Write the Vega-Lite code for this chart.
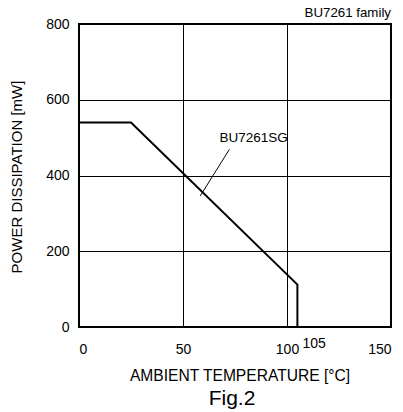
{
  "$schema": "https://vega.github.io/schema/vega-lite/v6.json",
  "autosize": {"type": "none"},
  "width": 312,
  "height": 303,
  "padding": {"left": 79, "top": 24, "right": 12, "bottom": 85},
  "config": {
    "font": "Liberation Sans",
    "view": {"stroke": "#000", "strokeWidth": 2},
    "axis": {"labelFont": "Liberation Sans", "titleFont": "Liberation Sans", "labelColor": "#000", "titleColor": "#000", "titleFontWeight": "normal", "gridColor": "#000", "gridOpacity": 1, "gridWidth": 1, "domain": false, "ticks": false, "labelFontSize": 14, "titleFontSize": 15}
  },
  "title": {"text": "Fig.2", "orient": "bottom", "fontSize": 21, "fontWeight": "normal", "color": "#000", "font": "Liberation Sans", "offset": 0, "dx": -3, "dy": 4},
  "datasets": {
    "curve": [
      {"t": 0, "p": 540},
      {"t": 25, "p": 540},
      {"t": 105, "p": 112},
      {"t": 105, "p": 0}
    ],
    "leader": [
      {"t": 72.3, "p": 469},
      {"t": 58.3, "p": 346}
    ],
    "labels": [
      {"t": 84, "p": 499, "label": "BU7261SG", "kind": "series"},
      {"t": 150, "p": 800, "label": "BU7261 family", "kind": "family"},
      {"t": 105, "p": 0, "label": "105", "kind": "tick"}
    ]
  },
  "layer": [
    {
      "data": {"name": "curve"},
      "mark": {"type": "line", "color": "#000", "strokeWidth": 2},
      "encoding": {
        "x": {"field": "t", "type": "quantitative", "scale": {"domain": [0, 150], "nice": false},
          "axis": {"values": [0, 50, 100, 150], "grid": true, "title": "AMBIENT TEMPERATURE [°C]", "labelPadding": 15, "titleFontSize": 15.6, "titleBaseline": "alphabetic", "titleX": 160.5, "titleY": 53}},
        "y": {"field": "p", "type": "quantitative", "scale": {"domain": [0, 800], "nice": false},
          "axis": {"values": [0, 200, 400, 600, 800], "grid": true, "title": "POWER DISSIPATION [mW]", "labelPadding": 10, "titleBaseline": "middle", "titleX": -62.5, "titleY": 152.5}}
      }
    },
    {
      "data": {"name": "leader"},
      "mark": {"type": "line", "color": "#000", "strokeWidth": 1},
      "encoding": {
        "x": {"field": "t", "type": "quantitative"},
        "y": {"field": "p", "type": "quantitative"}
      }
    },
    {
      "data": {"name": "labels"},
      "transform": [{"filter": "datum.kind == 'series'"}],
      "mark": {"type": "text", "fontSize": 13.5, "color": "#000", "align": "center", "baseline": "middle"},
      "encoding": {
        "x": {"field": "t", "type": "quantitative"},
        "y": {"field": "p", "type": "quantitative"},
        "text": {"field": "label"}
      }
    },
    {
      "data": {"name": "labels"},
      "transform": [{"filter": "datum.kind == 'family'"}],
      "mark": {"type": "text", "fontSize": 13.3, "color": "#000", "align": "right", "baseline": "alphabetic", "dy": -7},
      "encoding": {
        "x": {"field": "t", "type": "quantitative"},
        "y": {"field": "p", "type": "quantitative"},
        "text": {"field": "label"}
      }
    },
    {
      "data": {"name": "labels"},
      "transform": [{"filter": "datum.kind == 'tick'"}],
      "mark": {"type": "text", "fontSize": 14, "color": "#000", "align": "left", "baseline": "alphabetic", "dx": 5, "dy": 21},
      "encoding": {
        "x": {"field": "t", "type": "quantitative"},
        "y": {"field": "p", "type": "quantitative"},
        "text": {"field": "label"}
      }
    }
  ]
}
